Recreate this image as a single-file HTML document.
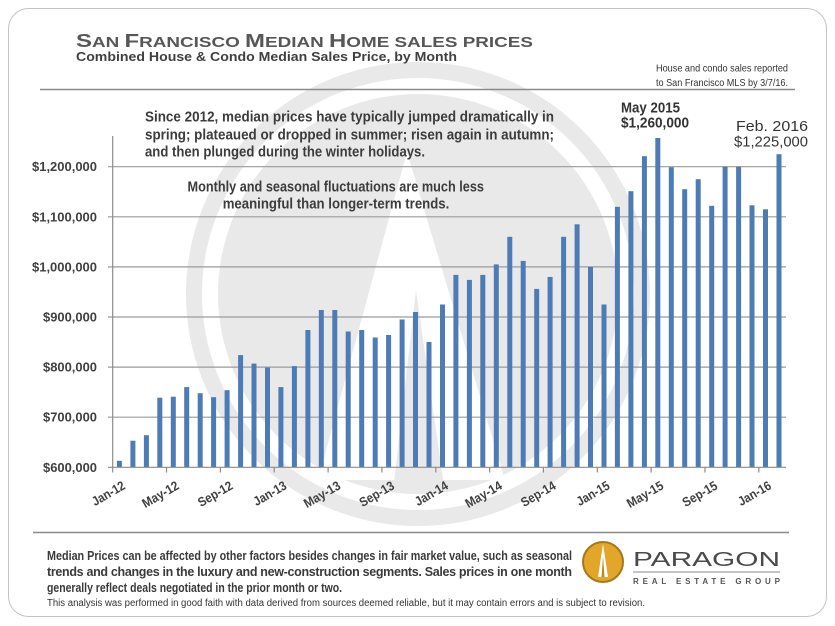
<!DOCTYPE html>
<html><head><meta charset="utf-8"><style>
html,body{margin:0;padding:0;background:#fff;}
svg{display:block;}
text{font-family:"Liberation Sans",sans-serif;}
</style></head><body>
<svg width="835" height="626" viewBox="0 0 835 626" xmlns="http://www.w3.org/2000/svg">
<rect x="0" y="0" width="835" height="626" fill="#fff"/>
<rect x="8.5" y="8.5" width="818" height="608" rx="20" ry="20" fill="#fff" stroke="#c4c4c4" stroke-width="1"/>

<!-- watermark -->
<defs><clipPath id="disk"><circle cx="418" cy="294" r="200"/></clipPath></defs>
<circle cx="418" cy="294" r="224" fill="none" stroke="#e9e9e9" stroke-width="16"/>
<circle cx="418" cy="294" r="200" fill="#e9e9e9"/>
<g clip-path="url(#disk)">
<polygon points="407,152 318,480 505,480" fill="#fff"/>
<polygon points="416,290 392,500 446,500" fill="#e9e9e9"/>
</g>

<!-- header -->
<text x="76" y="47" fill="#575757" font-weight="bold" textLength="457" lengthAdjust="spacingAndGlyphs"><tspan font-size="18.5">S</tspan><tspan font-size="14.6">AN </tspan><tspan font-size="18.5">F</tspan><tspan font-size="14.6">RANCISCO </tspan><tspan font-size="18.5">M</tspan><tspan font-size="14.6">EDIAN </tspan><tspan font-size="18.5">H</tspan><tspan font-size="14.6">OME SALES PRICES</tspan></text>
<text x="76" y="61" fill="#404040" font-weight="bold" font-size="13" textLength="381" lengthAdjust="spacingAndGlyphs">Combined House &amp; Condo Median Sales Price, by Month</text>
<text x="656" y="71.5" fill="#333" font-size="10.5" textLength="132" lengthAdjust="spacingAndGlyphs">House and condo sales reported</text>
<text x="656" y="86" fill="#333" font-size="10.5" textLength="132" lengthAdjust="spacingAndGlyphs">to San Francisco MLS by 3/7/16.</text>
<line x1="40" y1="89.5" x2="795" y2="89.5" stroke="#8a8a8a" stroke-width="1.5"/>

<!-- gridlines -->
<g stroke="#9a9a9a" stroke-width="1.2">
<line x1="108" y1="166.7" x2="786" y2="166.7"/>
<line x1="108" y1="216.8" x2="786" y2="216.8"/>
<line x1="108" y1="266.9" x2="786" y2="266.9"/>
<line x1="108" y1="317.0" x2="786" y2="317.0"/>
<line x1="108" y1="367.1" x2="786" y2="367.1"/>
<line x1="108" y1="417.2" x2="786" y2="417.2"/>
</g>

<!-- annotations -->
<g fill="#3c3c3c" font-weight="bold" font-size="15">
<text x="145" y="121.7" textLength="409" lengthAdjust="spacingAndGlyphs">Since 2012, median prices have typically jumped dramatically in</text>
<text x="145" y="139.3" textLength="409" lengthAdjust="spacingAndGlyphs">spring; plateaued or dropped in summer; risen again in autumn;</text>
<text x="145" y="156.7" textLength="280" lengthAdjust="spacingAndGlyphs">and then plunged during the winter holidays.</text>
</g>
<g fill="#3c3c3c" font-weight="bold" font-size="14.5">
<text x="187.5" y="191.5" textLength="296.5" lengthAdjust="spacingAndGlyphs">Monthly and seasonal fluctuations are much less</text>
<text x="222.7" y="208.5" textLength="226.6" lengthAdjust="spacingAndGlyphs">meaningful than longer-term trends.</text>
</g>
<g fill="#333" font-size="14.5">
<text x="621" y="112.7" font-weight="bold" textLength="59" lengthAdjust="spacingAndGlyphs">May 2015</text>
<text x="621" y="127.7" font-weight="bold" textLength="68" lengthAdjust="spacingAndGlyphs">$1,260,000</text>
<text x="736" y="131" textLength="72" lengthAdjust="spacingAndGlyphs">Feb. 2016</text>
<text x="734" y="146.7" textLength="74" lengthAdjust="spacingAndGlyphs">$1,225,000</text>
</g>

<!-- bars -->
<g fill="#4c7bb6">
<rect x="116.9" y="460.8" width="5" height="6.5"/>
<rect x="130.4" y="440.7" width="5" height="26.6"/>
<rect x="143.9" y="435.2" width="5" height="32.1"/>
<rect x="157.3" y="397.7" width="5" height="69.6"/>
<rect x="170.8" y="396.7" width="5" height="70.6"/>
<rect x="184.2" y="387.1" width="5" height="80.2"/>
<rect x="197.7" y="393.2" width="5" height="74.1"/>
<rect x="211.1" y="397.2" width="5" height="70.1"/>
<rect x="224.6" y="390.2" width="5" height="77.1"/>
<rect x="238.1" y="355.1" width="5" height="112.2"/>
<rect x="251.5" y="363.6" width="5" height="103.7"/>
<rect x="265.0" y="367.6" width="5" height="99.7"/>
<rect x="278.4" y="387.1" width="5" height="80.2"/>
<rect x="291.9" y="366.1" width="5" height="101.2"/>
<rect x="305.4" y="330.0" width="5" height="137.3"/>
<rect x="318.8" y="310.0" width="5" height="157.3"/>
<rect x="332.3" y="310.0" width="5" height="157.3"/>
<rect x="345.7" y="331.5" width="5" height="135.8"/>
<rect x="359.2" y="330.0" width="5" height="137.3"/>
<rect x="372.7" y="337.5" width="5" height="129.8"/>
<rect x="386.1" y="335.0" width="5" height="132.3"/>
<rect x="399.6" y="319.5" width="5" height="147.8"/>
<rect x="413.0" y="312.0" width="5" height="155.3"/>
<rect x="426.5" y="342.0" width="5" height="125.3"/>
<rect x="440.0" y="304.5" width="5" height="162.8"/>
<rect x="453.4" y="274.9" width="5" height="192.4"/>
<rect x="466.9" y="279.9" width="5" height="187.4"/>
<rect x="480.3" y="274.9" width="5" height="192.4"/>
<rect x="493.8" y="264.4" width="5" height="202.9"/>
<rect x="507.3" y="236.8" width="5" height="230.5"/>
<rect x="520.7" y="260.9" width="5" height="206.4"/>
<rect x="534.2" y="288.9" width="5" height="178.4"/>
<rect x="547.6" y="276.9" width="5" height="190.4"/>
<rect x="561.1" y="236.8" width="5" height="230.5"/>
<rect x="574.6" y="224.3" width="5" height="243.0"/>
<rect x="588.0" y="266.9" width="5" height="200.4"/>
<rect x="601.5" y="304.5" width="5" height="162.8"/>
<rect x="614.9" y="206.8" width="5" height="260.5"/>
<rect x="628.4" y="191.2" width="5" height="276.1"/>
<rect x="641.9" y="156.2" width="5" height="311.1"/>
<rect x="655.3" y="138.0" width="5" height="329.3"/>
<rect x="668.8" y="167.2" width="5" height="300.1"/>
<rect x="682.2" y="189.2" width="5" height="278.1"/>
<rect x="695.7" y="179.2" width="5" height="288.1"/>
<rect x="709.2" y="205.8" width="5" height="261.5"/>
<rect x="722.6" y="166.7" width="5" height="300.6"/>
<rect x="736.1" y="166.7" width="5" height="300.6"/>
<rect x="749.5" y="205.3" width="5" height="262.0"/>
<rect x="763.0" y="209.3" width="5" height="258.0"/>
<rect x="776.5" y="154.2" width="5" height="313.1"/>
</g>

<!-- axes -->
<g stroke="#8c8c8c" stroke-width="1.2">
<line x1="112.7" y1="136" x2="112.7" y2="467.3"/>
<line x1="108" y1="467.3" x2="786" y2="467.3"/>
<line x1="112.7" y1="467.3" x2="112.7" y2="472.5"/>
<line x1="166.5" y1="467.3" x2="166.5" y2="472.5"/>
<line x1="220.4" y1="467.3" x2="220.4" y2="472.5"/>
<line x1="274.2" y1="467.3" x2="274.2" y2="472.5"/>
<line x1="328.1" y1="467.3" x2="328.1" y2="472.5"/>
<line x1="381.9" y1="467.3" x2="381.9" y2="472.5"/>
<line x1="435.8" y1="467.3" x2="435.8" y2="472.5"/>
<line x1="489.6" y1="467.3" x2="489.6" y2="472.5"/>
<line x1="543.4" y1="467.3" x2="543.4" y2="472.5"/>
<line x1="597.3" y1="467.3" x2="597.3" y2="472.5"/>
<line x1="651.1" y1="467.3" x2="651.1" y2="472.5"/>
<line x1="705.0" y1="467.3" x2="705.0" y2="472.5"/>
<line x1="758.8" y1="467.3" x2="758.8" y2="472.5"/>
</g>

<!-- y labels -->
<g fill="#404040" font-weight="bold" font-size="12.5" text-anchor="end">
<text x="97" y="171.2" textLength="65" lengthAdjust="spacingAndGlyphs">$1,200,000</text>
<text x="97" y="221.3" textLength="65" lengthAdjust="spacingAndGlyphs">$1,100,000</text>
<text x="97" y="271.4" textLength="65" lengthAdjust="spacingAndGlyphs">$1,000,000</text>
<text x="97" y="321.5" textLength="54" lengthAdjust="spacingAndGlyphs">$900,000</text>
<text x="97" y="371.6" textLength="54" lengthAdjust="spacingAndGlyphs">$800,000</text>
<text x="97" y="421.7" textLength="54" lengthAdjust="spacingAndGlyphs">$700,000</text>
<text x="97" y="471.8" textLength="54" lengthAdjust="spacingAndGlyphs">$600,000</text>
</g>

<!-- x labels -->
<g fill="#404040" font-weight="bold" font-size="13" text-anchor="end">
<text transform="translate(121.4,480) rotate(-30)" y="9.5" textLength="36" lengthAdjust="spacingAndGlyphs">Jan-12</text>
<text transform="translate(175.2,480) rotate(-30)" y="9.5" textLength="40" lengthAdjust="spacingAndGlyphs">May-12</text>
<text transform="translate(229.1,480) rotate(-30)" y="9.5" textLength="38" lengthAdjust="spacingAndGlyphs">Sep-12</text>
<text transform="translate(282.9,480) rotate(-30)" y="9.5" textLength="36" lengthAdjust="spacingAndGlyphs">Jan-13</text>
<text transform="translate(336.8,480) rotate(-30)" y="9.5" textLength="40" lengthAdjust="spacingAndGlyphs">May-13</text>
<text transform="translate(390.6,480) rotate(-30)" y="9.5" textLength="38" lengthAdjust="spacingAndGlyphs">Sep-13</text>
<text transform="translate(444.4,480) rotate(-30)" y="9.5" textLength="36" lengthAdjust="spacingAndGlyphs">Jan-14</text>
<text transform="translate(498.3,480) rotate(-30)" y="9.5" textLength="40" lengthAdjust="spacingAndGlyphs">May-14</text>
<text transform="translate(552.1,480) rotate(-30)" y="9.5" textLength="38" lengthAdjust="spacingAndGlyphs">Sep-14</text>
<text transform="translate(606.0,480) rotate(-30)" y="9.5" textLength="36" lengthAdjust="spacingAndGlyphs">Jan-15</text>
<text transform="translate(659.8,480) rotate(-30)" y="9.5" textLength="40" lengthAdjust="spacingAndGlyphs">May-15</text>
<text transform="translate(713.7,480) rotate(-30)" y="9.5" textLength="38" lengthAdjust="spacingAndGlyphs">Sep-15</text>
<text transform="translate(767.5,480) rotate(-30)" y="9.5" textLength="36" lengthAdjust="spacingAndGlyphs">Jan-16</text>
</g>

<!-- footer -->
<line x1="33" y1="532.5" x2="789" y2="532.5" stroke="#8a8a8a" stroke-width="1.5"/>
<g fill="#3a3a3a" font-weight="bold" font-size="12.5">
<text x="47" y="560" textLength="525" lengthAdjust="spacingAndGlyphs">Median Prices can be affected by other factors besides changes in fair market value, such as seasonal</text>
<text x="47" y="576" textLength="525" lengthAdjust="spacing">trends and changes in the luxury and new-construction segments. Sales prices in one month</text>
<text x="47" y="592" textLength="295" lengthAdjust="spacingAndGlyphs">generally reflect deals negotiated in the prior month or two.</text>
</g>
<text x="47" y="606" fill="#333" font-size="10" textLength="598" lengthAdjust="spacingAndGlyphs">This analysis was performed in good faith with data derived from sources deemed reliable, but it may contain errors and is subject to revision.</text>

<!-- logo -->
<circle cx="603" cy="562" r="20" fill="#e2a72a" stroke="#a7781a" stroke-width="2"/>
<polygon points="603,544 598,577 608,577" fill="#fff"/>
<polygon points="603,556 601.5,577 604.5,577" fill="#b98a2a"/>
<text x="633" y="566" fill="#4a4a4a" font-size="20.5" textLength="147" lengthAdjust="spacingAndGlyphs">PARAGON</text>
<line x1="633" y1="572" x2="780" y2="572" stroke="#8a8a8a" stroke-width="1"/>
<text x="633" y="584" fill="#555" font-weight="bold" font-size="8" textLength="147" lengthAdjust="spacing">REAL ESTATE GROUP</text>
</svg>
</body></html>
